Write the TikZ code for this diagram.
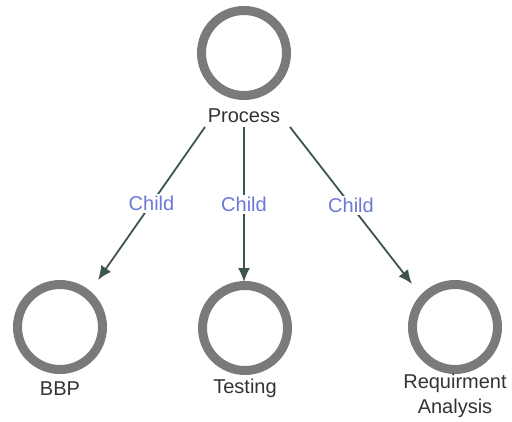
\documentclass[tikz,border=0pt]{standalone}
\usepackage{fontspec}
\setmainfont{Liberation Sans}
\usetikzlibrary{arrows.meta,calc}
\definecolor{ringgray}{HTML}{7A7A7A}
\definecolor{edgeteal}{HTML}{3D554D}
\definecolor{relblue}{HTML}{6B78D8}
\definecolor{textgray}{HTML}{333333}
\begin{document}
\begin{tikzpicture}[x=1pt,y=-1pt,
  ring/.style={circle,draw=ringgray,line width=9pt,minimum size=85pt,inner sep=0pt},
  name label/.style={text=textgray,font=\fontsize{20}{25}\selectfont,inner sep=0pt,align=center},
  childedge/.style={draw=edgeteal,line width=1.8pt,-{Latex[length=14pt,width=12pt]}},
  rel/.style={fill=white,text=relblue,font=\fontsize{20}{24}\selectfont,inner sep=2pt}]
  \useasboundingbox (0,0) rectangle (512,421);
  % parent
  \node[ring] (p) at (244,53) {};
  \node[name label] (pl) at (244,116) {Process};
  % children
  \node[ring] (b) at (60,327) {};
  \node[name label] (bl) at (60,389) {BBP};
  \node[ring] (t) at (245,328) {};
  \node[name label] (tl) at (245,388) {Testing};
  \node[ring] (r) at (455,327) {};
  \node[name label] (rl) at (455,396) {Requirment\\Analysis};
  % parent-to-child links
  \draw[childedge] ($(pl)+(-39,11)$) -- node[rel] {Child} ($(b)+(38,-47)$);
  \draw[childedge] ($(pl)+(0,11)$) -- node[rel] {Child} ($(t)+(-1,-46)$);
  \draw[childedge] ($(pl)+(46,11)$) -- node[rel] {Child} ($(r)+(-43,-43)$);
\end{tikzpicture}
\end{document}
